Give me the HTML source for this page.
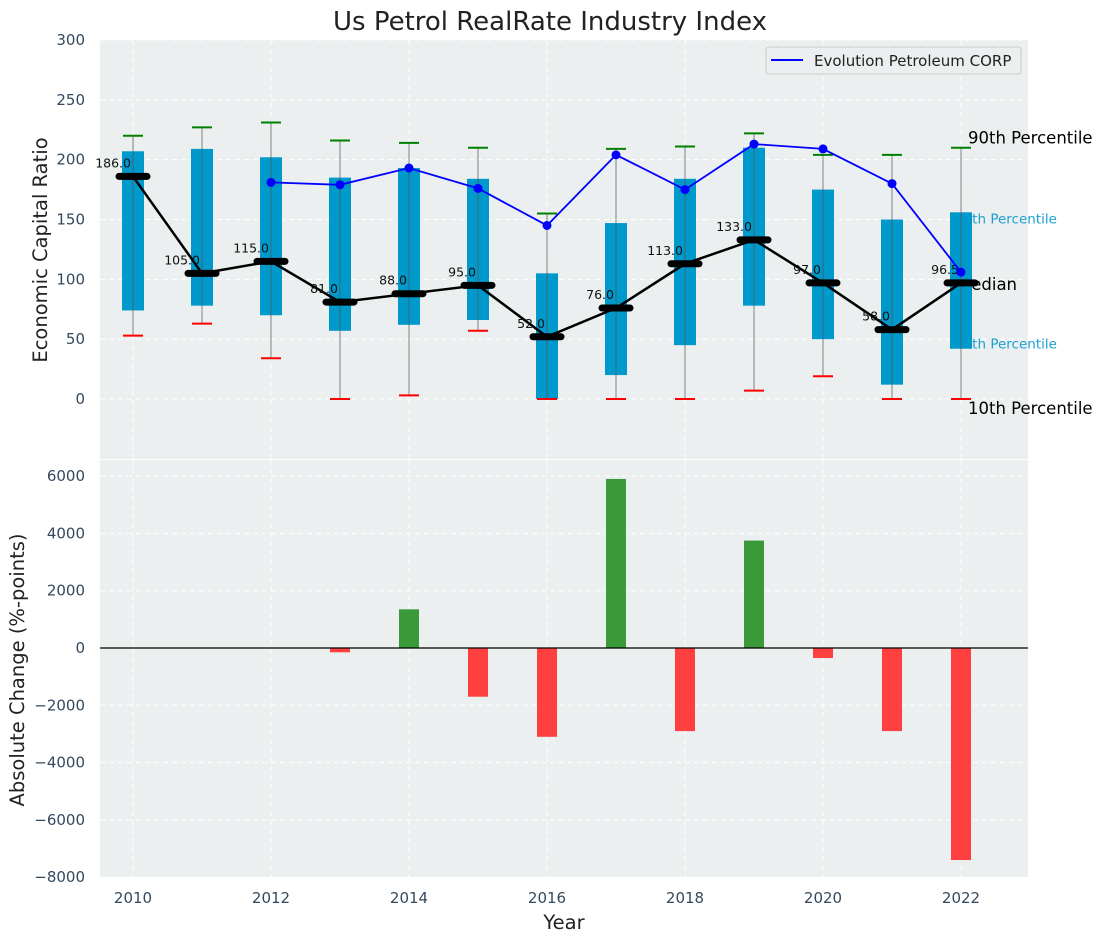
<!DOCTYPE html>
<html><head><meta charset="utf-8"><style>
body{margin:0;background:#fff;}
svg{display:block;font-family:"DejaVu Sans","Liberation Sans",sans-serif;}
</style></head><body>
<svg id="chart" width="1103" height="942" viewBox="0 0 1103 942">
<text x="550" y="30" font-size="26" text-anchor="middle" fill="#222">Us Petrol RealRate Industry Index</text>
<rect x="100" y="40" width="928" height="419" fill="#ebefef"/>
<rect x="100" y="460" width="928" height="417" fill="#ebefef"/>
<g id="topG"></g>
<g id="botG"></g>
<text x="47" y="250" font-size="19.5" fill="#222" text-anchor="middle" transform="rotate(-90 47 250)">Economic Capital Ratio</text>
<text x="24" y="670" font-size="19.5" fill="#222" text-anchor="middle" transform="rotate(-90 24 670)">Absolute Change (%-points)</text>
<text x="564" y="929" font-size="19.5" fill="#222" text-anchor="middle">Year</text>
<g>
<rect x="766" y="47" width="255" height="27" rx="3" fill="#ebefef" stroke="#ccc"/>
<line x1="771" y1="60" x2="803" y2="60" stroke="#0000ff" stroke-width="2"/>
<text x="814" y="66" font-size="15" fill="#222">Evolution Petroleum CORP</text>
</g>
</svg>
<script>
const years=[2010,2011,2012,2013,2014,2015,2016,2017,2018,2019,2020,2021,2022];
const p90=[220,227,231,216,214,210,155,209,211,222,204,204,210];
const p75=[207,209,202,185,193,184,105,147,184,210,175,150,156];
const median=[186,105,115,81,88,95,52,76,113,133,97,58,97];
const medianLabels=["186.0","105.0","115.0","81.0","88.0","95.0","52.0","76.0","113.0","133.0","97.0","58.0","96.5"];
const p25=[74,78,70,57,62,66,0,20,45,78,50,12,42];
const p10=[53,63,34,0,3,57,0,0,0,7,19,0,0];
const companyYears=[2012,2013,2014,2015,2016,2017,2018,2019,2020,2021,2022];
const companyValues=[181,179,193,176,145,204,175,213,209,180,106];
const changeYears=[2013,2014,2015,2016,2017,2018,2019,2020,2021,2022];
const changeValues=[-150,1350,-1700,-3100,5900,-2900,3750,-350,-2900,-7400];
const topTicks=[0,50,100,150,200,250,300];
const botTicks=[-8000,-6000,-4000,-2000,0,2000,4000,6000];
const xTicks=[2010,2012,2014,2016,2018,2020,2022];

const NS="http://www.w3.org/2000/svg";
const X=v=>133+(v-2010)*69;
const YT=v=>399-v*1.1967;
const YB=v=>648-v*0.02865;
const topG=document.getElementById('topG'),botG=document.getElementById('botG'),svg=document.getElementById('chart');
function mk(p,tag,a,txt){const e=document.createElementNS(NS,tag);for(const k in a)e.setAttribute(k,a[k]);if(txt!==undefined)e.textContent=txt;p.appendChild(e);return e;}

for(const t of topTicks){
 const g=mk(topG,'line',{x1:100,x2:1028,y1:YT(t),y2:YT(t),stroke:'#fff','stroke-dasharray':'5,4','stroke-width':1});
 
 
 const l=mk(svg,'text',{x:85,y:YT(t)+5,'font-size':15,fill:'#34495e','text-anchor':'end'},String(t));
 
 
}
for(const t of botTicks){
 const g=mk(botG,'line',{x1:100,x2:1028,y1:YB(t),y2:YB(t),stroke:'#fff','stroke-dasharray':'5,4','stroke-width':1});
 
 
 const l=mk(svg,'text',{x:85,y:YB(t)+5,'font-size':15,fill:'#34495e','text-anchor':'end'},t<0?'\u2212'+(-t):String(t));
 
 
}
for(const t of xTicks){
 const g1=mk(topG,'line',{x1:X(t),x2:X(t),y1:40,y2:459,stroke:'#fff','stroke-dasharray':'5,4'});
 
 
 const g2=mk(botG,'line',{x1:X(t),x2:X(t),y1:460,y2:877,stroke:'#fff','stroke-dasharray':'5,4'});
 
 
 const l=mk(svg,'text',{x:X(t),y:903,'font-size':15,fill:'#34495e','text-anchor':'middle'},String(t));
 
 
}
const last=years.length-1;
const lbl=[[p90[last],'90th Percentile','#000',16.5,-4,7],[p75[last],'75th Percentile','#1a9fd0',13.5,11,-6],[median[last],'Median','#000',16.5,7,-4],[p25[last],'25th Percentile','#1a9fd0',13.5,0,-6],[p10[last],'10th Percentile','#000',16.5,15,7]];
lbl.forEach(([v,s,c,fs,dy,dx])=>{
 const t=mk(topG,'text',{x:X(2022)+dx,y:YT(v)+dy,'font-size':fs,fill:c},s);
 
 
});
years.forEach((y,i)=>{
 const b=mk(topG,'rect',{x:X(y)-11,y:YT(p75[i]),width:22,height:YT(p25[i])-YT(p75[i]),fill:'#0099cc'});
 
 
 const w=mk(topG,'line',{x1:X(y),x2:X(y),y1:YT(p90[i]),y2:YT(p10[i]),stroke:'#555','stroke-opacity':0.6,'stroke-width':1.2});
 
 
 const c1=mk(topG,'line',{x1:X(y)-10,x2:X(y)+10,y1:YT(p90[i]),y2:YT(p90[i]),stroke:'#008000','stroke-width':2});
 
 
 const c2=mk(topG,'line',{x1:X(y)-10,x2:X(y)+10,y1:YT(p10[i]),y2:YT(p10[i]),stroke:'#ff0000','stroke-width':2});
 
 
});
const ml=mk(topG,'polyline',{points:years.map((y,i)=>X(y)+','+YT(median[i])).join(' '),fill:'none',stroke:'#000','stroke-width':2.5});


years.forEach((y,i)=>{
 const m=mk(topG,'line',{x1:X(y)-14,x2:X(y)+14,y1:YT(median[i]),y2:YT(median[i]),stroke:'#000','stroke-width':7,'stroke-linecap':'round'});
 
 
 const t=mk(topG,'text',{x:X(y)-2,y:YT(median[i])-9,'font-size':12.5,fill:'#111','text-anchor':'end'},medianLabels[i]);
 
 
});
const cl=mk(topG,'polyline',{points:companyYears.map((y,i)=>X(y)+','+YT(companyValues[i])).join(' '),fill:'none',stroke:'#0000ff','stroke-width':1.8});


companyYears.forEach((y,i)=>{
 const d=mk(topG,'circle',{cx:X(y),cy:YT(companyValues[i]),r:4.5,fill:'#0000ff'});
 
 
});
changeYears.forEach((y,i)=>{
 const v=changeValues[i];
 const b=mk(botG,'rect',{x:X(y)-10,y:Math.min(YB(v),YB(0)),width:20,height:Math.abs(YB(v)-YB(0)),fill:v>=0?'#3a9a3a':'#ff4040'});
 
 
});
const z=mk(botG,'line',{x1:100,x2:1028,y1:YB(0),y2:YB(0),stroke:'#000','stroke-width':1.2});


</script>
</body></html>
